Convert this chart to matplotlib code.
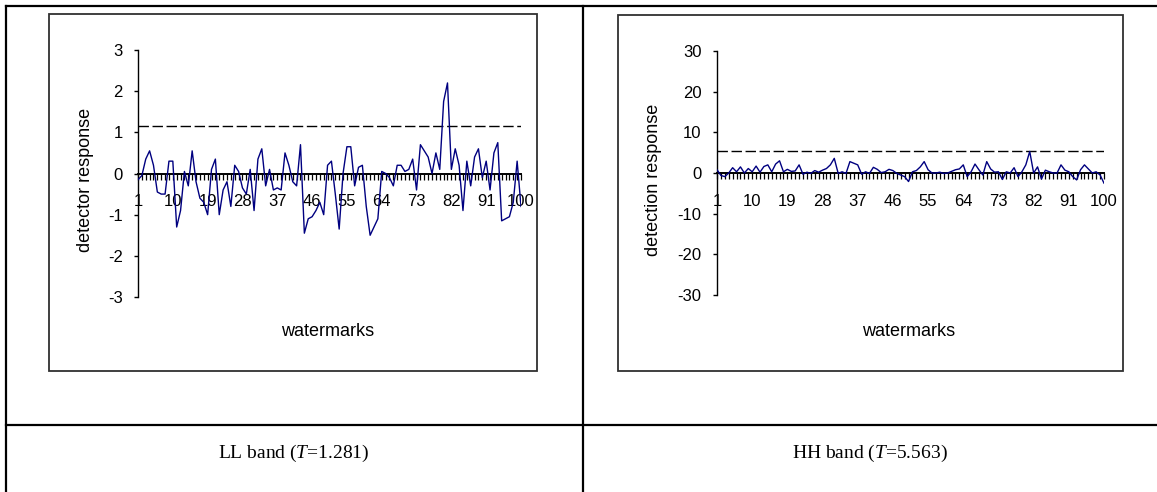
import matplotlib
matplotlib.use("Agg")
import matplotlib.pyplot as plt
from matplotlib.patches import Rectangle

plt.rcParams['font.family'] = ['Liberation Sans', 'DejaVu Sans']
plt.rcParams['mathtext.fontset'] = 'custom'
plt.rcParams['mathtext.rm'] = 'Liberation Serif'
plt.rcParams['mathtext.it'] = 'Liberation Serif:italic'

watermarks = list(range(1, 101))
tick_labels = [str(i) if (i - 1) % 9 == 0 else '' for i in watermarks]

ll_response = [
    -0.15, -0.05, 0.35, 0.55, 0.2, -0.45, -0.5, -0.5, 0.3, 0.3,
    -1.3, -0.9, 0.05, -0.3, 0.55, -0.2, -0.6, -0.7, -1.0, 0.1,
    0.35, -1.0, -0.4, -0.2, -0.8, 0.2, 0.05, -0.35, -0.5, 0.1,
    -0.9, 0.35, 0.6, -0.3, 0.1, -0.4, -0.35, -0.4, 0.5, 0.2,
    -0.2, -0.3, 0.7, -1.45, -1.1, -1.05, -0.9, -0.7, -1.0, 0.2,
    0.3, -0.5, -1.35, 0.0, 0.65, 0.65, -0.3, 0.15, 0.2, -0.8,
    -1.5, -1.3, -1.1, 0.05, 0.0, -0.1, -0.3, 0.2, 0.2, 0.05,
    0.1, 0.35, -0.4, 0.7, 0.55, 0.4, 0.0, 0.5, 0.1, 1.75,
    2.2, 0.1, 0.6, 0.2, -0.9, 0.3, -0.3, 0.4, 0.6, -0.1,
    0.3, -0.4, 0.5, 0.75, -1.15, -1.1, -1.05, -0.7, 0.3, -0.8,
]
hh_response = [
    0.8, -0.6, -0.9, 0.0, 1.3, 0.3, 1.5, 0.0, 1.1, 0.3,
    1.7, 0.2, 1.6, 2.0, 0.3, 2.2, 3.0, 0.3, 0.9, 0.4,
    0.5, 2.0, -0.3, 0.2, -0.1, 0.6, 0.2, 0.7, 1.1, 2.0,
    3.6, -0.1, 0.3, -0.1, 2.8, 2.4, 2.0, -0.3, 0.3, -0.1,
    1.4, 0.9, 0.1, 0.3, 0.9, 0.6, -0.1, -0.5, -0.9, -2.1,
    0.3, 0.6, 1.5, 2.8, 0.8, 0.0, 0.0, 0.2, -0.1, 0.0,
    0.4, 0.8, 1.0, 2.0, -0.9, 0.3, 2.2, 0.8, -0.5, 2.8,
    1.0, 0.2, 0.3, -1.6, 0.3, 0.0, 1.3, -0.9, 0.3, 2.0,
    5.3, 0.0, 1.5, -1.5, 0.7, 0.3, 0.0, 0.0, 2.0, 0.7,
    0.3, -0.9, -1.7, 0.8, 2.0, 1.0, 0.0, 0.3, -0.5, -2.5,
]
ll_threshold = 1.16
hh_threshold = 5.5

W, H = 1157, 492
fig = plt.figure(figsize=(W / 100, H / 100), dpi=100)

# page layer in pixel coordinates: table lines and chart-area boxes
bg = fig.add_axes([0, 0, 1, 1])
bg.set_xlim(0, W)
bg.set_ylim(H, 0)
bg.axis('off')
for x in [6, 583]:
    bg.plot([x, x], [6, H], color='black', lw=1.6)
bg.plot([6, W], [6, 6], color='black', lw=1.6)
bg.plot([6, W], [425, 425], color='black', lw=1.6)
bg.add_patch(Rectangle((49, 14), 488, 357, fill=False, ec='#303030', lw=1.3))
bg.add_patch(Rectangle((618, 15), 505, 356, fill=False, ec='#303030', lw=1.3))

bg.text(294, 453, r'LL band ($\mathit{T}$=1.281)', ha='center', va='center',
        fontsize=14, family='Liberation Serif')
bg.text(870, 453, r'HH band ($\mathit{T}$=5.563)', ha='center', va='center',
        fontsize=14, family='Liberation Serif')

panels = [
    (138, 521, 50, 297, ll_response, ll_threshold, 3, 'detector response', 85, 328),
    (717, 1104, 51, 295, hh_response, hh_threshold, 30, 'detection response', 654, 909),
]

for x0, x1, ytop, ybot, values, thr, lim, ylab, ylab_x, xlab_x in panels:
    ax = fig.add_axes([x0 / W, (H - ybot) / H, (x1 - x0) / W, (ybot - ytop) / H])
    ax.patch.set_alpha(0)
    ax.plot(watermarks, values, color='#000080', lw=1.0, zorder=3)
    ax.plot([1, 100], [thr, thr], color='black', lw=1.0, dashes=(7.5, 2.6), zorder=2)
    ax.set_xlim(1, 100)
    ax.set_ylim(-lim, lim)
    ax.set_yticks([-lim, -2 * lim / 3, -lim / 3, 0, lim / 3, 2 * lim / 3, lim])
    ax.set_yticklabels([str(int(round(v))) for v in ax.get_yticks()])
    ax.set_xticks(watermarks)
    ax.set_xticklabels(tick_labels)
    for s in ['top', 'right']:
        ax.spines[s].set_visible(False)
    ax.spines['bottom'].set_position(('data', 0))
    ax.spines['bottom'].set_linewidth(1.4)
    ax.spines['left'].set_linewidth(1.0)
    ax.tick_params(axis='x', direction='out', length=4, width=0.9, pad=11, labelsize=12)
    ax.tick_params(axis='y', direction='out', length=3, width=1.0, pad=8, labelsize=12)
    fig.text(ylab_x / W, 1 - 180 / H, ylab, rotation=90, ha='center', va='center', fontsize=13)
    fig.text(xlab_x / W, 1 - 331 / H, 'watermarks', ha='center', va='center', fontsize=13)

fig.savefig('out.png', dpi=100)
